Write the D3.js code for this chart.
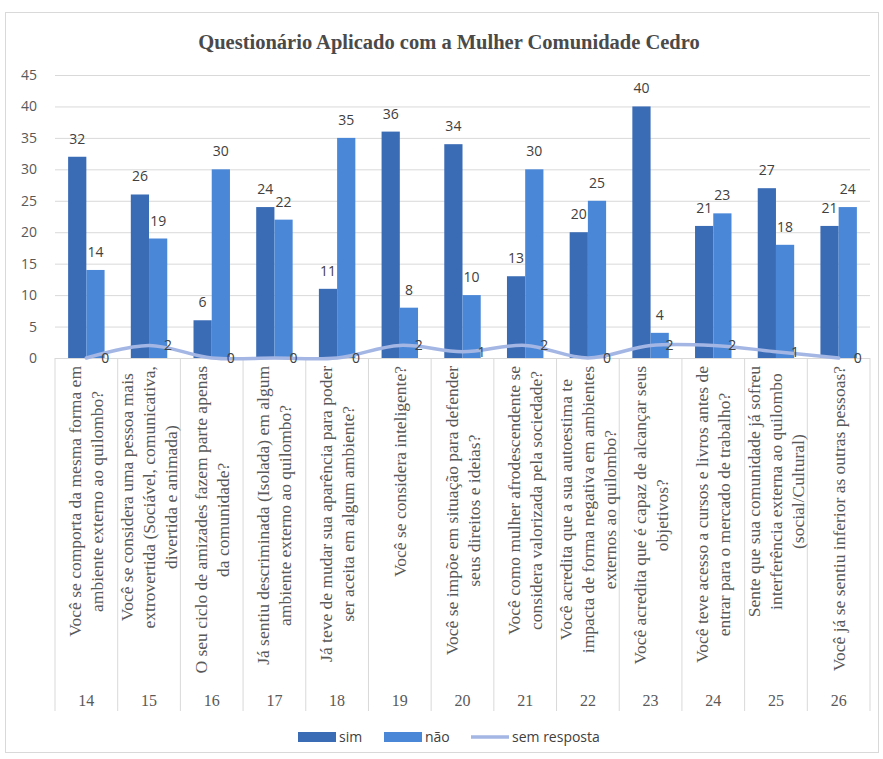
<!DOCTYPE html>
<html>
<head>
<meta charset="utf-8">
<script src="https://cdn.jsdelivr.net/npm/d3@7"></script>
<style>
  html, body { margin: 0; padding: 0; background: #ffffff; }
  svg { display: block; }
</style>
</head>
<body>
<svg id="chart" width="883" height="759"></svg>
<script>
const title = "Questionário Aplicado com a Mulher Comunidade Cedro";
const questionNumbers = ["14","15","16","17","18","19","20","21","22","23","24","25","26"];
const questionLabels = [
  ["Você se comporta da mesma forma em", "ambiente externo ao quilombo?"],
  ["Você se considera uma pessoa mais", "extrovertida (Sociável, comunicativa,", "divertida e animada)"],
  ["O seu ciclo de amizades fazem parte apenas", "da comunidade?"],
  ["Já sentiu descriminada (Isolada) em algum", "ambiente externo ao quilombo?"],
  ["Já teve de mudar sua aparência para poder", "ser aceita em algum ambiente?"],
  ["Você se considera inteligente?"],
  ["Você se impõe em situação para defender", "seus direitos e ideias?"],
  ["Você como mulher afrodescendente se", "considera valorizada pela sociedade?"],
  ["Você acredita que a sua autoestima te", "impacta de forma negativa em ambientes", "externos ao quilombo?"],
  ["Você acredita que é capaz de alcançar seus", "objetivos?"],
  ["Você teve acesso a cursos e livros antes de", "entrar para o mercado de trabalho?"],
  ["Sente que sua comunidade já sofreu", "interferência externa ao quilombo", "(social/Cultural)"],
  ["Você já se sentiu inferior as outras pessoas?"]
];
const simValues  = [32, 26, 6, 24, 11, 36, 34, 13, 20, 40, 21, 27, 21];
const naoValues  = [14, 19, 30, 22, 35, 8, 10, 30, 25, 4, 23, 18, 24];
const semValues  = [0, 2, 0, 0, 0, 2, 1, 2, 0, 2, 2, 1, 0];
const yTicks = [0, 5, 10, 15, 20, 25, 30, 35, 40, 45];
const seriesNames = ["sim", "não", "sem resposta"];
const colors = { sim: "#3a6bb5", nao: "#4a87d7", sem: "#a3b6e4" };

const svg = d3.select("#chart");
const plot = { left: 55, right: 870, top: 75, bottom: 358 };
const labelTop = 366, tableBottom = 711;

// outer border
svg.append("rect").attr("x", 5.5).attr("y", 12.5).attr("width", 873).attr("height", 740)
  .attr("fill", "#fff").attr("stroke", "#d9d9d9").attr("stroke-width", 1);

// title
svg.append("text").attr("x", 449).attr("y", 49).attr("text-anchor", "middle")
  .attr("font-family", "'Liberation Serif', 'Times New Roman', serif")
  .attr("font-weight", "bold").attr("font-size", 20.5).attr("fill", "#4a4a4a")
  .text(title);

const x = d3.scaleBand().domain(questionNumbers).range([plot.left, plot.right]).paddingInner(0).paddingOuter(0);
const x1 = d3.scaleBand().domain(["sim","nao"]).range([0, x.bandwidth()]).paddingInner(0).paddingOuter(0.72);
const y = d3.scaleLinear().domain([0, 45]).range([plot.bottom, plot.top]);

// gridlines + y axis
const yAxis = d3.axisLeft(y).tickValues(yTicks).tickSize(-(plot.right - plot.left)).tickPadding(18);
const gy = svg.append("g").attr("transform", `translate(${plot.left},0)`).call(yAxis);
gy.select(".domain").remove();
gy.selectAll(".tick line").attr("stroke", "#d9d9d9").attr("stroke-width", 1);
gy.selectAll(".tick text").attr("font-family", "'Open Sans', sans-serif").attr("font-size", 14)
  .attr("fill", "#595959");

// category table vertical lines
const bounds = questionNumbers.map(d => x(d)).concat([plot.right]);
svg.append("g").selectAll("line").data(bounds).join("line")
  .attr("x1", d => d).attr("x2", d => d).attr("y1", plot.bottom).attr("y2", tableBottom)
  .attr("stroke", "#d9d9d9").attr("stroke-width", 1);

// bars
const groups = svg.append("g").selectAll("g").data(questionNumbers).join("g")
  .attr("transform", d => `translate(${x(d)},0)`);
groups.append("rect").attr("x", x1("sim")).attr("width", x1.bandwidth())
  .attr("y", (d, i) => y(simValues[i])).attr("height", (d, i) => y(0) - y(simValues[i]))
  .attr("fill", colors.sim);
groups.append("rect").attr("x", x1("nao")).attr("width", x1.bandwidth())
  .attr("y", (d, i) => y(naoValues[i])).attr("height", (d, i) => y(0) - y(naoValues[i]))
  .attr("fill", colors.nao);

// bar labels
const lblFont = "'Open Sans', sans-serif";
groups.append("text").attr("x", x1("sim") + x1.bandwidth() / 2).attr("y", (d, i) => y(simValues[i]) - 13)
  .attr("text-anchor", "middle").attr("font-family", lblFont).attr("font-size", 14).attr("fill", "#404040")
  .text((d, i) => simValues[i]);
groups.append("text").attr("x", x1("nao") + x1.bandwidth() / 2).attr("y", (d, i) => y(naoValues[i]) - 13)
  .attr("text-anchor", "middle").attr("font-family", lblFont).attr("font-size", 14).attr("fill", "#404040")
  .text((d, i) => naoValues[i]);

// smooth line
const line = d3.line().x((d, i) => x(questionNumbers[i]) + x.bandwidth() / 2).y(d => y(d))
  .curve(d3.curveCatmullRom.alpha(0.5));
svg.append("path").datum(semValues).attr("d", line).attr("fill", "none")
  .attr("stroke", colors.sem).attr("stroke-width", 3.5).attr("stroke-linecap", "round");
svg.append("g").selectAll("text").data(semValues).join("text")
  .attr("x", (d, i) => x(questionNumbers[i]) + x.bandwidth() / 2 + 15)
  .attr("y", d => y(d) + 5)
  .attr("font-family", lblFont).attr("font-size", 14).attr("fill", "#404040")
  .text(d => d);

// category labels (rotated, multi-line, centered block anchored at top)
const serif = "'Liberation Serif', 'Times New Roman', serif";
const lineH = 22;
questionLabels.forEach((lines, i) => {
  const cx = x(questionNumbers[i]) + x.bandwidth() / 2;
  const g = svg.append("g").attr("transform", `translate(${cx},${labelTop}) rotate(-90)`);
  const texts = g.selectAll("text").data(lines).join("text")
    .attr("font-family", serif).attr("font-size", 17.5).attr("fill", "#595959")
    .attr("text-anchor", "middle")
    .attr("y", (d, j) => (j - (lines.length - 1) / 2) * lineH + 6)
    .text(d => d);
  let maxW = 0;
  texts.each(function() { maxW = Math.max(maxW, this.getComputedTextLength()); });
  texts.attr("x", -maxW / 2);
});

// question numbers
svg.append("g").selectAll("text").data(questionNumbers).join("text")
  .attr("x", d => x(d) + x.bandwidth() / 2).attr("y", 706)
  .attr("text-anchor", "middle").attr("font-family", serif).attr("font-size", 16).attr("fill", "#595959")
  .text(d => d);

// legend
const legend = svg.append("g").attr("transform", "translate(298,737)");
const legItems = [
  { name: seriesNames[0], color: colors.sim, type: "rect", x: 0 },
  { name: seriesNames[1], color: colors.nao, type: "rect", x: 86 },
  { name: seriesNames[2], color: colors.sem, type: "line", x: 173 }
];
legItems.forEach(it => {
  const g = legend.append("g").attr("transform", `translate(${it.x},0)`);
  if (it.type === "rect") {
    g.append("rect").attr("x", 0).attr("y", -5).attr("width", 38).attr("height", 10).attr("fill", it.color);
  } else {
    g.append("line").attr("x1", 0).attr("x2", 38).attr("y1", 0).attr("y2", 0)
      .attr("stroke", it.color).attr("stroke-width", 3.5);
  }
  g.append("text").attr("x", 41).attr("y", 5).attr("font-family", lblFont).attr("font-size", 14)
    .attr("fill", "#404040").text(it.name);
});
</script>
</body>
</html>
